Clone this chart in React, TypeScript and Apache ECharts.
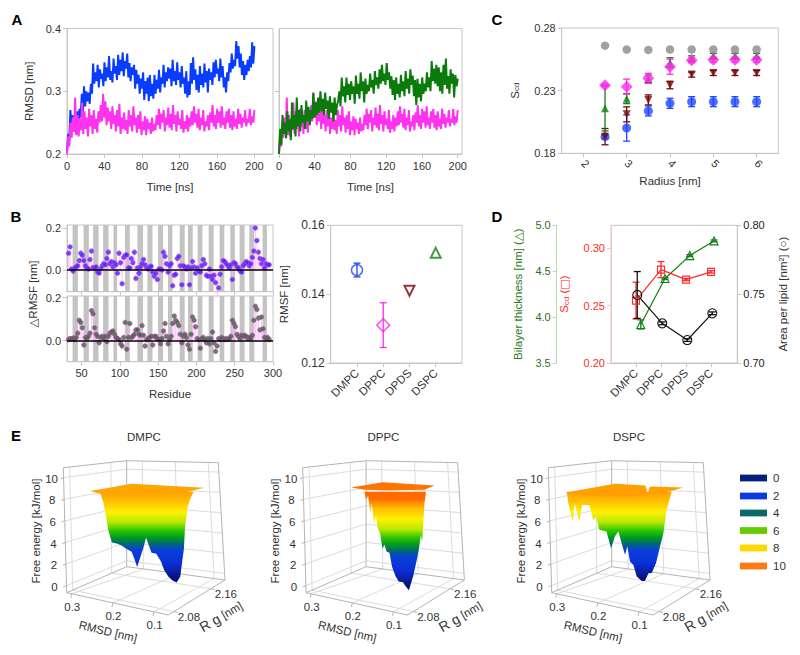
import React, { useEffect, useRef } from "react";
import * as echarts from "echarts";

const FONT = '"Liberation Sans", Arial, "DejaVu Sans", sans-serif';
const INK = "#333333";
const FRAME = "#c6c6c6";

// ---------- Panel A ----------
const rmsdBlue = [.204,.232,.222,.270,.236,.262,.240,.255,.232,.268,.248,.272,.258,.296,.266,.308,.276,.300,.284,.298,.280,.312,.296,.344,.312,.330,.316,.342,.306,.335,.320,.328,.308,.346,.316,.338,.322,.356,.318,.332,.314,.352,.328,.340,.318,.358,.326,.350,.332,.362,.324,.348,.336,.360,.322,.345,.316,.338,.326,.342,.304,.334,.312,.326,.296,.320,.304,.330,.286,.316,.296,.322,.284,.326,.292,.312,.288,.326,.296,.318,.304,.334,.298,.322,.312,.342,.306,.330,.316,.338,.320,.336,.308,.350,.316,.332,.310,.346,.318,.330,.306,.340,.312,.322,.296,.332,.290,.316,.294,.345,.312,.354,.318,.335,.302,.326,.298,.340,.310,.328,.306,.344,.314,.332,.298,.336,.318,.330,.310,.346,.322,.350,.328,.336,.316,.352,.322,.340,.306,.322,.298,.330,.316,.345,.330,.360,.336,.350,.340,.380,.352,.372,.338,.360,.326,.348,.318,.342,.326,.350,.332,.356,.338,.378,.344,.372];
const rmsdMagenta = [.200,.228,.212,.250,.226,.258,.235,.290,.230,.262,.228,.256,.238,.282,.232,.268,.240,.258,.228,.272,.244,.262,.232,.270,.240,.256,.234,.268,.250,.278,.252,.296,.258,.284,.246,.274,.252,.268,.240,.276,.248,.262,.236,.270,.244,.280,.232,.258,.240,.266,.238,.254,.232,.270,.244,.262,.236,.276,.246,.258,.234,.262,.240,.268,.230,.252,.238,.260,.230,.256,.240,.250,.232,.258,.236,.248,.238,.262,.246,.272,.240,.264,.250,.270,.236,.258,.246,.274,.242,.264,.238,.278,.248,.262,.236,.268,.246,.256,.240,.270,.234,.252,.240,.262,.236,.258,.244,.268,.246,.276,.250,.264,.242,.272,.238,.258,.246,.270,.236,.252,.244,.262,.238,.266,.250,.278,.244,.262,.240,.272,.250,.268,.242,.276,.246,.258,.240,.268,.250,.272,.242,.262,.238,.268,.244,.256,.240,.272,.248,.264,.242,.258,.250,.270,.244,.256,.250,.272,.246,.260,.250,.270];
const rmsdGreen = [.200,.240,.215,.262,.232,.250,.225,.268,.236,.255,.222,.282,.240,.262,.228,.290,.244,.270,.236,.278,.250,.262,.240,.285,.252,.275,.246,.270,.256,.298,.258,.282,.262,.290,.266,.300,.268,.288,.262,.298,.272,.285,.256,.292,.266,.282,.252,.290,.262,.278,.285,.300,.276,.322,.292,.308,.282,.322,.294,.312,.286,.316,.296,.308,.280,.325,.296,.312,.288,.330,.300,.316,.282,.320,.296,.310,.300,.328,.306,.318,.296,.332,.310,.322,.304,.335,.312,.342,.316,.328,.310,.345,.318,.330,.304,.324,.294,.318,.286,.322,.296,.312,.290,.326,.300,.316,.292,.332,.304,.320,.296,.335,.310,.325,.292,.318,.278,.320,.290,.312,.284,.322,.296,.312,.300,.330,.306,.322,.300,.348,.316,.336,.312,.342,.308,.338,.300,.330,.296,.342,.310,.352,.304,.324,.296,.335,.312,.328,.290,.326,.308,.320];
const timeTicks = [0, 40, 80, 120, 160, 200];
const rmsdTicks = [0.2, 0.3, 0.4];

// ---------- Panel B ----------
const firstResidue = 33;
const residueStep = 2;
const deltaUpper = [.080,.110,.005,-.005,.010,.015,.020,.045,.080,.070,.045,.020,.010,.005,.050,.090,
  .012,.010,.015,-.010,-.015,.005,.020,.030,.025,.055,.085,.030,.040,.015,.035,.025,
  -.015,.080,.035,-.065,.060,.070,.072,.010,.010,.055,.035,.085,-.040,.010,-.015,.015,.030,.050,.025,.010,.005,.015,.018,-.010,-.030,-.015,-.045,.005,.005,.000,.085,.065,.030,-.010,.020,.030,-.075,-.025,-.020,.055,.065,.020,-.070,.020,.015,.005,.015,-.070,.010,.040,.015,-.015,.010,-.005,-.010,.020,.050,.030,-.025,-.030,.005,-.030,-.045,-.025,-.060,-.130,-.085,-.020,.015,.045,.040,.030,.020,.010,.025,-.045,.035,.030,.015,.010,-.005,-.010,.020,.030,.040,.035,.020,.030,.060,.090,.200,.140,.085,.055,.030,.050,.010,.030,.025,.025];
const deltaLower = [.005,.010,.008,.012,.005,.015,.035,.095,.085,.060,-.020,.015,.010,.020,.035,.140,.125,.060,.030,.020,-.010,.015,.020,.010,.020,-.005,.020,.035,.040,.045,.030,.015,.010,.005,-.015,-.025,.015,.085,-.040,.015,.080,.015,.020,.030,.050,.050,.030,.025,.070,.025,-.025,.005,.010,.015,.020,-.020,.020,.020,.010,.005,-.015,.010,.045,.080,.020,-.015,.005,.020,.080,.115,.095,.085,.070,.030,-.010,.020,.030,.015,-.020,-.040,.030,.110,.095,.065,.010,.005,-.035,.010,.015,.005,-.010,.010,-.015,.010,.040,-.010,-.050,-.025,.010,.005,.015,.010,.005,.010,.005,.010,.020,.095,.080,.065,.030,.020,.010,.025,.020,.025,.020,.010,.015,.010,.025,.095,.160,.145,.105,.050,.110,.055,.015,.010,.015,.005];
const stripeStart = [38.3,52.6,65.1,78.2,91.7,106.8,123,136,149.9,162.9,178.2,189,201.6,216,230.3,244.3,256.4,269,286.4];
const stripeEnd = [45.2,59.5,72.2,85.2,96.4,113,130.3,142.6,156.4,168.6,184.7,195.2,207.8,222.5,236.4,250.2,262.9,275.6,292];
const residueTicks = [50, 100, 150, 200, 250, 300];
const lipids = ["DMPC", "DPPC", "DPDS", "DSPC"];
const lipidPos = [1, 2, 3, 4];
const rmsfValues = [0.147, 0.131, 0.141, 0.152];
const rmsfErrors = [0.002, 0.0065, 0.0003, 0.0003];
const rmsfColors = ["#1f48ff", "#ff2bec", "#7a0606", "#128012"];

// ---------- Panel C ----------
const radii = [2.5, 3, 3.5, 4, 4.5, 5, 5.5, 6];
const scdBlue = [.1933,.2002,.2138,.2199,.2212,.2212,.2212,.2212];
const scdBlueErr = [.0015,.0105,.004,.004,.004,.004,.004,.004];
const scdRed = [.1933,.2111,.2226,.2345,.2428,.2441,.2441,.2441];
const scdRedErr = [.0065,.006,.004,.003,.002,.002,.002,.002];
const scdGreen = [.2159,.2236,.2393,.2523,.2558,.2577,.2577,.2577];
const scdGreenErr = [.018,.004,.003,.004,.002,.002,.002,.002];
const scdGrey = [.2659,.2628,.2625,.2628,.2628,.2628,.2628,.2628];
const scdMagenta = [.2343,.2332,.2398,.2491,.2542,.2547,.2547,.2547];
const scdMagentaErr = [.001,.006,.004,.006,.002,.002,.002,.002];
const radiusTicks = [2, 3, 4, 5, 6];
const scdTicks = [0.18, 0.23, 0.28];

// ---------- Panel D ----------
const thicknessX = [1.19, 2.16, 3.15, 4.12];
const thickness = [3.92, 4.42, 4.67, 4.83];
const thicknessErr = [.05, .01, .01, .01];
const orderX = [1, 2, 3, 4];
const order = [.2544, .2814, .2727, .2794];
const orderErr = [.016, .007, .001, .001];
const areaX = [1.05, 2.05, 3.05, 4.05];
const areaPerLipid = [.7494, .7288, .7167, .7361];
const areaErr = [.017, .001, .001, .001];

// ---------- Panel E ----------
const energyTicks = [0, 2, 4, 6, 8, 10];
const eRmsdTicks = [0.3, 0.2, 0.1];
const eRgTicks = [2.08, 2.16];
const surfaceNames = ["DMPC", "DPPC", "DSPC"];
const profileDMPC = [[11,9],[14,7.9],[16,6.6],[18,5.2],[21,4],[25,3.9],[29,3.7],[33,3.4],[37.5,3.1],[40,2.3],[42,1.6],[44,2.3],[47,3.4],[49.5,4.5],[51.5,3.8],[54,3],[58,2.9],[62,2.1],[64.5,1.3],[68,.65],[71.5,.26],[75,.06],[78,.65],[79,1.6],[81,3.4],[82,5.6],[84,7.4],[86,8.2],[89,9]];
const profileDPPC = [[32,9],[33.3,8.2],[35,8.6],[37,6.9],[38,7.9],[40,5.9],[41.6,6.6],[43,5.4],[45,4.9],[47,3.4],[48.6,3.8],[50.5,3.1],[52.8,3],[55,1.6],[58,.66],[60.5,.16],[64,.1],[66,-.26],[69,-.7],[71.7,.33],[72.8,.82],[75,2],[77,3.1],[79,4.75],[80,4.1],[81,5.9],[82,7.9],[83.3,9]];
const profileDSPC = [[-4,8.9],[-2.8,7.87],[.8,6.07],[2.5,7.87],[6.4,6.07],[8.6,7.7],[14.7,7.7],[18,6.2],[20.3,6.56],[23,5.25],[29,5.08],[32.8,3.44],[36,4.6],[38.9,5.08],[41.7,3.9],[44.4,2.8],[46.4,3.6],[48.6,2.13],[51.4,1.8],[54.2,.66],[58.3,.23],[61,.23],[64,.98],[66.7,1],[70.3,2],[73.6,3.6],[76.4,4.9],[79,7.2],[83.3,9]];
const planeDMPC = [[2.8,9.08],[37.5,9.77],[97.8,9.38],[77.8,8.8],[27.8,8.65],[11,8.8]];
const planeDPPC = [[20.8,9.41],[47.2,9.93],[90.3,9.6],[82,9.18],[52.8,9.11],[32,9.18]];
const planeDSPC = [[-5,8.92],[36,9.77],[61.4,9.6],[63.3,8.7],[65,9.5],[93,9.41],[76,8.85],[45.8,8.46],[4.2,8.7]];
const legendLabels = ["0", "2", "4", "6", "8", "10"];
const legendColors = ["#0a1f7a", "#0a3ce0", "#0a6a6a", "#66cc00", "#ffd800", "#ff7a10"];

// ---------- layout helpers ----------
const rows = (xs: number[], ys: number[], es?: number[]) => xs.map((x, i) => (es ? [x, ys[i], es[i]] : [x, ys[i]]));
const residues = (vals: number[]) => vals.map((v, i) => [firstResidue + i * residueStep, v]);
const byTime = (vals: number[]) => vals.map((v, i) => [(i * 200) / (vals.length - 1), v]);

const baseAxis = (idx: number, ticks: number[] | null, extra: any = {}) => ({
  gridIndex: idx,
  type: "value",
  splitLine: { show: false },
  axisLine: { show: true, onZero: false, lineStyle: { color: FRAME, width: 1 } },
  axisTick: { show: true, length: 4, inside: false, lineStyle: { color: FRAME }, ...(ticks ? { customValues: ticks } : {}) },
  axisLabel: {
    show: true, color: INK, fontFamily: FONT, fontSize: 11, margin: 6, hideOverlap: false, showMinLabel: true, showMaxLabel: true,
    ...(ticks ? { customValues: ticks } : {}),
    ...(extra.label || {}),
  },
  nameTextStyle: { color: INK, fontFamily: FONT, fontSize: 11.5, ...(extra.nameStyle || {}) },
  nameLocation: "middle",
  ...(extra.axis || {}),
});

const hiddenAxis = (idx: number, min: number, max: number) => ({ gridIndex: idx, type: "value", min, max, show: false });

const scdName = (rich: any = {}) => ({
  rich: {
    a: { fontFamily: FONT, fontSize: 11.5, color: rich.color || INK },
    b: { fontFamily: FONT, fontSize: 8, color: rich.color || INK, verticalAlign: "bottom", padding: [4, 0, 0, 0] },
    c: { fontFamily: '"DejaVu Sans"', fontSize: 11, color: rich.color || INK },
  },
});

function errorSeries(name: string, x: number, y: number, data: number[][], color: string, cap = 3.5, width = 1.3) {
  return {
    type: "custom", name, xAxisIndex: x, yAxisIndex: y, data, encode: { x: 0, y: 1 }, z: 3, silent: true,
    renderItem: (_p: any, api: any) => {
      const cx = api.value(0), cy = api.value(1), e = api.value(2);
      const hi = api.coord([cx, cy + e]);
      const lo = api.coord([cx, cy - e]);
      const ls = { stroke: color, lineWidth: width };
      return {
        type: "group",
        children: [
          { type: "line", shape: { x1: hi[0], y1: hi[1], x2: lo[0], y2: lo[1] }, style: ls },
          { type: "line", shape: { x1: hi[0] - cap, y1: hi[1], x2: hi[0] + cap, y2: hi[1] }, style: ls },
          { type: "line", shape: { x1: lo[0] - cap, y1: lo[1], x2: lo[0] + cap, y2: lo[1] }, style: ls },
        ],
      };
    },
  };
}

function stripeSeries(x: number, y: number, lo: number, hi: number) {
  return {
    type: "custom", xAxisIndex: x, yAxisIndex: y, z: 1, silent: true,
    data: stripeStart.map((s, i) => [s, stripeEnd[i], lo, hi]), encode: { x: [0, 1], y: [2, 3] },
    renderItem: (_p: any, api: any) => {
      const a = api.coord([api.value(0), api.value(3)]);
      const b = api.coord([api.value(1), api.value(2)]);
      return { type: "rect", shape: { x: a[0], y: a[1], width: b[0] - a[0], height: b[1] - a[1] }, style: { fill: "#c3c3c3" } };
    },
  };
}

function stemSeries(x: number, y: number, data: number[][]) {
  return {
    type: "custom", xAxisIndex: x, yAxisIndex: y, z: 2, silent: true, data, encode: { x: 0, y: 1 },
    renderItem: (_p: any, api: any) => {
      const a = api.coord([api.value(0), 0]);
      const b = api.coord([api.value(0), api.value(1)]);
      return { type: "line", shape: { x1: a[0], y1: a[1], x2: b[0], y2: b[1] }, style: { stroke: "#ffb4f8", lineWidth: 0.8 } };
    },
  };
}

function dotSeries(x: number, y: number, data: number[][], fill: string) {
  return {
    type: "scatter", xAxisIndex: x, yAxisIndex: y, z: 3, data, symbol: "circle", symbolSize: 4.6,
    itemStyle: { color: fill, borderColor: "#f02be8", borderWidth: 0.8 },
    markLine: { silent: true, symbol: "none", label: { show: false }, lineStyle: { color: "#000", width: 1.6, type: "solid" }, data: [{ yAxis: 0 }] },
  };
}

function filled(x: number, y: number, data: number[][], color: string, symbol: string, size: number, rotate = 0) {
  return { type: "scatter", xAxisIndex: x, yAxisIndex: y, z: 4, data, symbol, symbolSize: size, symbolRotate: rotate, itemStyle: { color } };
}

function openMark(x: number, y: number, data: number[][], color: string, symbol: string, size: number, rotate = 0, stroke = 1.5) {
  return {
    type: "scatter", xAxisIndex: x, yAxisIndex: y, z: 4, data, symbol, symbolSize: size, symbolRotate: rotate,
    itemStyle: { color: "rgba(255,255,255,0)", borderColor: color, borderWidth: stroke },
  };
}

function traceLine(x: number, y: number, data: number[][], color: string, symbol: string, size: number) {
  return {
    type: "line", xAxisIndex: x, yAxisIndex: y, z: 4, data, symbol, symbolSize: size, showSymbol: true,
    lineStyle: { color, width: 1.2 },
    itemStyle: { color: "rgba(255,255,255,0)", borderColor: color, borderWidth: 1.1 },
  };
}

// 3-D box of panel E: corner positions of the frame, drawn by trilinear mixing
const corner = {
  A: [66.7, 592.7], B: [168.3, 615], C: [225, 580], D: [126.7, 566.7],
  At: [63.3, 467.7], Ct: [218.3, 462.7], Dt: [126.7, 460.7],
};
const mix = (p: number[], q: number[], t: number) => [p[0] + (q[0] - p[0]) * t, p[1] + (q[1] - p[1]) * t];
const energyFrac = (e: number) => 0.056 + 0.0864 * e;
const surfaceOffsets = [0, 239.4, 485];

function textEl(text: string, x: number, y: number, extra: any = {}) {
  return {
    type: "text", x, y, rotation: extra.rotation || 0, silent: true, z: 0,
    style: {
      text, fill: extra.fill || INK, font: `${extra.weight || "normal"} ${extra.size || 11}px ${FONT}`,
      textAlign: extra.align || "center", textVerticalAlign: "middle", align: extra.align || "center", verticalAlign: "middle",
      ...(extra.rich ? { rich: extra.rich } : {}),
    },
  };
}

function lineEl(p: number[], q: number[], ox: number, stroke: string, width = 1) {
  return {
    type: "line", silent: true, z: 0,
    shape: { x1: p[0] + ox, y1: p[1], x2: q[0] + ox, y2: q[1] },
    style: { stroke, lineWidth: width },
  };
}

function boxElements(ox: number, title: string) {
  const out: any[] = [];
  const { A, B, C, D, At, Ct, Dt } = corner;
  const grid = "#dcdcdc";
  const edge = "#b4b4b4";
  energyTicks.forEach((e) => {
    const f = energyFrac(e);
    const l = mix(A, At, f), m = mix(D, Dt, f), r = mix(C, Ct, f);
    out.push(lineEl(l, m, ox, grid), lineEl(m, r, ox, grid));
    out.push(lineEl([l[0] - 3, l[1] + 1], l, ox, edge));
    out.push(textEl(String(e), l[0] - 12 + ox, l[1] + 1, { align: "center", size: 11.5 }));
  });
  const rmFront = (r: number) => 0.05 + (0.3 - r) * 4.05;
  const rmBack = (r: number) => 0.17 + (0.3 - r) * 3.6;
  const rgFrac = (g: number) => 0.1 + (g - 2.08) * 8.125;
  eRmsdTicks.forEach((r) => {
    const f = mix(A, B, rmFront(r)), b = mix(D, C, rmBack(r)), t = mix(Dt, Ct, rmBack(r));
    out.push(lineEl(f, b, ox, grid), lineEl(b, t, ox, grid));
    out.push(lineEl(f, [f[0] - 1, f[1] + 4], ox, edge));
    out.push(textEl(r.toFixed(1), f[0] + ox + 0.5, f[1] + 13.5, { size: 11.5 }));
  });
  eRgTicks.forEach((g) => {
    const f = mix(B, C, rgFrac(g)), b = mix(A, D, rgFrac(g)), t = mix(At, Dt, rgFrac(g));
    out.push(lineEl(f, b, ox, grid), lineEl(b, t, ox, grid));
    out.push(lineEl(f, [f[0] + 4, f[1] + 1], ox, edge));
    out.push(textEl(g.toFixed(2), f[0] + ox + 15, f[1] + 5, { size: 11.5 }));
  });
  [[A, B], [B, C], [C, D], [D, A], [A, At], [At, Dt], [Dt, Ct], [Ct, C], [D, Dt]].forEach(([p, q]) => out.push(lineEl(p, q, ox, edge)));
  out.push(textEl(title, 144 + ox, 437, { size: 11.5 }));
  out.push(textEl("Free energy [kJ/mol]", 36 + ox, 531, { rotation: Math.PI / 2, size: 11.5 }));
  out.push(textEl("RMSD [nm]", 108 + ox, 631.5, { rotation: -0.23, size: 11.5 }));
  out.push(textEl("{a|R g} [nm]", 221 + ox, 616.5, {
    rotation: 0.52, size: 11.5,
    rich: { a: { fontFamily: FONT, fontSize: 14, fill: INK, color: INK } },
  }));
  return out;
}

function surfaceGrid(i: number) {
  return { left: 62.7 + surfaceOffsets[i], width: 156, top: 491.7, height: 101.7, show: false };
}

const surfaceStops = (top: string, shift: number) => {
  const off = (e: number) => (9 - (e + shift)) / 10;
  const raw: [number, string][] = [[9, top], [8, "#ffc000"], [7, "#fff000"], [6, "#b8e800"], [5.2, "#30c800"], [4.5, "#009a20"], [3.9, "#006a70"], [3.3, "#0a40d8"], [2, "#0a30d8"], [1.2, "#0a20a8"], [0.3, "#001070"]];
  return raw.map(([e, color]) => ({ offset: Math.min(1, Math.max(0, off(e))), color }));
};

function surfaceSeries(xIndex: number, yIndex: number, profile: number[][], plane: number[][], top: string, planeFill: string, shift: number) {
  const gradient = new echarts.graphic.LinearGradient(0, 491.7, 0, 593.4, surfaceStops(top, shift), true);
  return [
    {
      type: "line", xAxisIndex: xIndex, yAxisIndex: yIndex, z: 3, silent: true, data: profile, symbol: "none", showSymbol: false,
      lineStyle: { width: 0 }, areaStyle: { origin: "end", color: gradient, opacity: 1 }, clip: false,
    },
    {
      type: "custom", xAxisIndex: xIndex, yAxisIndex: yIndex, z: 4, silent: true, data: plane, encode: { x: 0, y: 1 },
      renderItem: (p: any, api: any) => {
        if (p.dataIndex !== 0) return null;
        return { type: "polygon", shape: { points: plane.map((d) => api.coord(d)) }, style: { fill: planeFill } };
      },
    },
  ];
}

function buildOption() {
  const lipidLabel = { rotate: 45, formatter: (v: number) => lipids[v - 1] ?? "", margin: 8, fontSize: 11.5 };
  const graphic: any[] = [];
  surfaceNames.forEach((n, i) => graphic.push(...boxElements(surfaceOffsets[i], n)));
  graphic.push(textEl("A", 17, 19, { weight: "bold", size: 15, fill: "#000" }));
  graphic.push(textEl("B", 16, 216, { weight: "bold", size: 15, fill: "#000" }));
  graphic.push(textEl("C", 497, 19, { weight: "bold", size: 15, fill: "#000" }));
  graphic.push(textEl("D", 497, 216, { weight: "bold", size: 15, fill: "#000" }));
  graphic.push(textEl("E", 16, 435, { weight: "bold", size: 15, fill: "#000" }));
  graphic.push(textEl("△RMSF [nm]", 33, 294, { rotation: Math.PI / 2, size: 11.5 }));
  legendLabels.forEach((t, i) => {
    const y = [478, 496, 513, 530.5, 548, 566][i];
    graphic.push({ type: "rect", silent: true, z: 0, shape: { x: 740, y: y - 3.4, width: 27, height: 6.8 }, style: { fill: legendColors[i] } });
    graphic.push(textEl(t, 773, y, { align: "left", size: 11.5 }));
  });

  return {
    animation: false,
    backgroundColor: "#fff",
    textStyle: { fontFamily: FONT },
    grid: [
      { left: 67, top: 28.5, width: 206, height: 125.5, show: true, borderColor: FRAME },
      { left: 279, top: 28.5, width: 183, height: 125.5, show: true, borderColor: FRAME },
      { left: 67, top: 225, width: 206, height: 66.7, show: true, borderColor: FRAME },
      { left: 67, top: 296, width: 206, height: 65.7, show: true, borderColor: FRAME },
      { left: 330.7, top: 225.3, width: 131.3, height: 137.7, show: true, borderColor: FRAME },
      { left: 561.7, top: 28, width: 216.6, height: 125.3, show: true, borderColor: FRAME },
      { left: 611, top: 225.3, width: 126.3, height: 137.7, show: true, borderColor: FRAME },
      surfaceGrid(0), surfaceGrid(1), surfaceGrid(2),
    ],
    xAxis: [
      baseAxis(0, timeTicks, { axis: { min: 0, max: 219.8, name: "Time [ns]", nameGap: 27 } }),
      baseAxis(1, timeTicks, { axis: { min: 0, max: 204.8, name: "Time [ns]", nameGap: 27 } }),
      baseAxis(2, residueTicks, { axis: { min: 31, max: 300 }, label: { show: false } }),
      baseAxis(3, residueTicks, { axis: { min: 31, max: 300, name: "Residue", nameGap: 26 } }),
      baseAxis(4, lipidPos, { axis: { min: 0, max: 5 }, label: lipidLabel }),
      baseAxis(5, radiusTicks, { axis: { min: 1.5, max: 6.5, name: "Radius [nm]", nameGap: 22 }, label: { rotate: -45, margin: 8 } }),
      baseAxis(6, lipidPos, { axis: { min: 0, max: 5.05 }, label: lipidLabel }),
      hiddenAxis(7, -20, 110), hiddenAxis(8, -20, 110), hiddenAxis(9, -20, 110),
    ],
    yAxis: [
      baseAxis(0, rmsdTicks, { axis: { min: 0.2, max: 0.4, name: "RMSD [nm]", nameGap: 32 }, label: { formatter: (v: number) => v.toFixed(1) } }),
      baseAxis(1, [0.3], { axis: { min: 0.2, max: 0.4 }, label: { show: false } }),
      baseAxis(2, [0, 0.2], { axis: { min: -0.103, max: 0.214 }, label: { formatter: (v: number) => v.toFixed(1) } }),
      baseAxis(3, [0, 0.2], { axis: { min: -0.098, max: 0.208 }, label: { formatter: (v: number) => v.toFixed(1) } }),
      baseAxis(4, [0.12, 0.14, 0.16], { axis: { min: 0.12, max: 0.16, name: "RMSF [nm]", nameGap: 41 }, label: { formatter: (v: number) => v.toFixed(2), fontSize: 12 } }),
      baseAxis(5, scdTicks, {
        axis: { min: 0.18, max: 0.28, name: "{a|S}{b|cd}", nameGap: 41 },
        label: { formatter: (v: number) => v.toFixed(2) },
        nameStyle: scdName(),
      }),
      baseAxis(6, [3.5, 4, 4.5, 5], {
        axis: { min: 3.5, max: 5, position: "left", offset: 54.3, name: "Bilayer thickness [nm] (△)", nameGap: 33 },
        label: { color: "#2e6b1e", formatter: (v: number) => v.toFixed(1) },
        nameStyle: { color: "#2e7a1e" },
      }),
      baseAxis(6, [0.2, 0.25, 0.3], {
        axis: { min: 0.2, max: 0.32, position: "left", name: "{a|S}{b|cd}{a| (}{c|□}{a|)}", nameGap: 41 },
        label: { color: "#ff2a2a", formatter: (v: number) => v.toFixed(2) },
        nameStyle: scdName({ color: "#ff2a2a" }),
      }),
      baseAxis(6, [0.7, 0.75, 0.8], {
        axis: { min: 0.7, max: 0.8, position: "right", name: "Area per lipid [nm²] (○)", nameGap: 40 },
        label: { color: "#222", formatter: (v: number) => v.toFixed(2) },
      }),
      hiddenAxis(7, -1, 9), hiddenAxis(8, -1, 9), hiddenAxis(9, -1, 9),
    ].map((a: any, i: number) => {
      if (i === 6) { a.axisLine.lineStyle.color = "#b5dcb0"; a.axisTick.lineStyle.color = "#b5dcb0"; }
      if (i === 7) { a.axisLine.lineStyle.color = "#ffc0c0"; a.axisTick.lineStyle.color = "#ffc0c0"; }
      return a;
    }),
    series: [
      { type: "line", xAxisIndex: 0, yAxisIndex: 0, data: byTime(rmsdBlue), showSymbol: false, symbol: "none", lineStyle: { color: "#0a3cff", width: 2 } },
      { type: "line", xAxisIndex: 0, yAxisIndex: 0, data: byTime(rmsdMagenta), showSymbol: false, symbol: "none", lineStyle: { color: "#ff33ee", width: 2 } },
      { type: "line", xAxisIndex: 1, yAxisIndex: 1, data: byTime(rmsdMagenta), showSymbol: false, symbol: "none", lineStyle: { color: "#ff33ee", width: 2 } },
      { type: "line", xAxisIndex: 1, yAxisIndex: 1, data: byTime(rmsdGreen), showSymbol: false, symbol: "none", lineStyle: { color: "#0a7a0a", width: 2 } },

      stripeSeries(2, 2, -0.103, 0.214),
      stripeSeries(3, 3, -0.098, 0.208),
      stemSeries(2, 2, residues(deltaUpper)),
      stemSeries(3, 3, residues(deltaLower)),
      dotSeries(2, 2, residues(deltaUpper), "#2430ff"),
      dotSeries(3, 3, residues(deltaLower), "#1c7a1c"),

      errorSeries("rmsf-blue", 4, 4, [[lipidPos[0], rmsfValues[0], rmsfErrors[0]]], rmsfColors[0]),
      errorSeries("rmsf-magenta", 4, 4, [[lipidPos[1], rmsfValues[1], rmsfErrors[1]]], rmsfColors[1]),
      openMark(4, 4, [[lipidPos[0], rmsfValues[0]]], rmsfColors[0], "circle", 11),
      openMark(4, 4, [[lipidPos[1], rmsfValues[1]]], rmsfColors[1], "diamond", 13),
      openMark(4, 4, [[lipidPos[2], rmsfValues[2]]], rmsfColors[2], "triangle", 10, 180, 2),
      openMark(4, 4, [[lipidPos[3], rmsfValues[3]]], rmsfColors[3], "triangle", 10, 0, 2),

      errorSeries("scd-blue", 5, 5, rows(radii, scdBlue, scdBlueErr), "#1f48ff"),
      filled(5, 5, rows(radii, scdBlue), "#1f48ff", "circle", 9),
      errorSeries("scd-red", 5, 5, rows(radii, scdRed, scdRedErr), "#7a0606"),
      filled(5, 5, rows(radii, scdRed), "#7a0606", "triangle", 8, 180),
      errorSeries("scd-green", 5, 5, rows(radii, scdGreen, scdGreenErr), "#128012"),
      filled(5, 5, rows(radii, scdGreen), "#128012", "triangle", 8),
      filled(5, 5, rows(radii, scdGrey), "#8a8a8a", "circle", 8.5),
      errorSeries("scd-magenta", 5, 5, rows(radii, scdMagenta, scdMagentaErr), "#ff2bec"),
      filled(5, 5, rows(radii, scdMagenta), "#ff2bec", "diamond", 12),

      errorSeries("d-green", 6, 6, rows(thicknessX, thickness, thicknessErr), "#128012"),
      traceLine(6, 6, rows(thicknessX, thickness), "#128012", "triangle", 8),
      errorSeries("d-red", 6, 7, rows(orderX, order, orderErr), "#ff2a2a"),
      traceLine(6, 7, rows(orderX, order), "#ff2a2a", "rect", 7),
      errorSeries("d-black", 6, 8, rows(areaX, areaPerLipid, areaErr), "#111"),
      traceLine(6, 8, rows(areaX, areaPerLipid), "#111", "circle", 9),

      ...surfaceSeries(7, 9, profileDMPC, planeDMPC, "#ffa000", "#ffa400", 0),
      ...surfaceSeries(8, 10, profileDPPC, planeDPPC, "#ff6a00", "#ff7400", -0.7),
      ...surfaceSeries(9, 11, profileDSPC, planeDSPC, "#ffa000", "#ffa000", 0),
    ],
    graphic: { elements: graphic },
  };
}

export default function App() {
  const ref = useRef<HTMLDivElement>(null);
  useEffect(() => {
    const chart = echarts.init(ref.current as HTMLDivElement, null, { renderer: "svg" });
    chart.setOption(buildOption() as any);
    return () => chart.dispose();
  }, []);
  return <div ref={ref} style={{ position: "absolute", left: 0, top: 0, width: 800, height: 655 }} />;
}
